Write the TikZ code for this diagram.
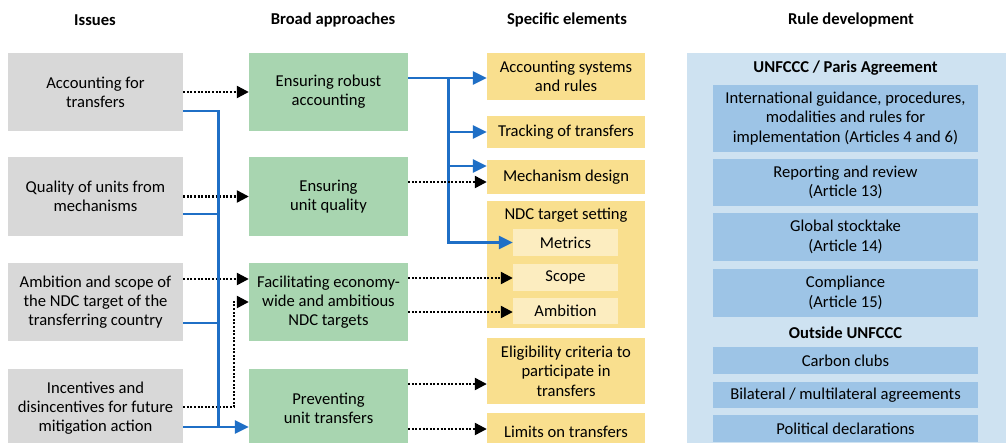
\documentclass[tikz,border=0pt]{standalone}
\usepackage{fontspec}
\setmainfont{Carlito}
\usetikzlibrary{calc,arrows.meta}
\definecolor{grayc}{HTML}{D8D8D8}
\definecolor{greenc}{HTML}{A8D5B0}
\definecolor{yellc}{HTML}{F9DF8E}
\definecolor{yellin}{HTML}{FCEDC0}
\definecolor{bluebg}{HTML}{CEE2F1}
\definecolor{bluein}{HTML}{9DC4E6}
\definecolor{bluel}{HTML}{1F6FC6}
\newcommand\fsz{\fontsize{16.6}{19.3}\selectfont}
\begin{document}
\begin{tikzpicture}[x=1pt,y=-1pt,
  hdr/.style={font=\fsz\bfseries, inner sep=0},
  txt/.style={font=\fsz, inner sep=0, align=center},
  gbox/.style={fill=grayc, inner sep=0, align=center, font=\fsz},
  abox/.style={fill=greenc, inner sep=0, align=center, font=\fsz},
  ybox/.style={fill=yellc, inner sep=0, align=center, font=\fsz},
  yin/.style={fill=yellin, inner sep=0, align=center, font=\fsz, minimum width=105},
  rbox/.style={fill=bluein, inner sep=0, align=center, font=\fsz, minimum width=265},
  dotarrow/.style={black, line width=2.3pt, dash pattern=on 2pt off 1.6pt, -{Triangle[length=12pt,width=12pt]}},
  bline/.style={bluel, line width=2.6pt},
  barrow/.style={bluel, line width=2.6pt, -{Triangle[length=14pt,width=13pt]}}
]
\useasboundingbox (0,0) rectangle (1006,442);
\clip (0,0) rectangle (1006,442);
\fill[white] (0,0) rectangle (1006,442);

% headers
\node[hdr] (h1) at (95,20) {Issues};
\node[hdr] (h2) at (333,20) {Broad approaches};
\node[hdr] (h3) at (567,20) {Specific elements};
\node[hdr] (h4) at (851,20) {Rule development};

% issues
\node[gbox, minimum width=175, minimum height=78] (i1) at (95.5,92) {Accounting for\\transfers};
\node[gbox, minimum width=175, minimum height=79] (i2) at (95.5,196.5) {Quality of units from\\mechanisms};
\node[gbox, minimum width=175, minimum height=78] (i3) at (95.5,302) {Ambition  and scope of\\the NDC target of the\\transferring  country};
\node[gbox, minimum width=175, minimum height=78] (i4) at (95.5,408) {Incentives and\\disincentives for future\\mitigation action};

% broad approaches
\node[abox, minimum width=159, minimum height=78] (a1) at (328.5,92) {Ensuring robust\\accounting};
\node[abox, minimum width=159, minimum height=79] (a2) at (328.5,196.5) {Ensuring\\unit quality};
\node[abox, minimum width=159, minimum height=78] (a3) at (328.5,302) {Facilitating economy-\\wide and ambitious\\NDC targets};
\node[abox, minimum width=159, minimum height=78] (a4) at (328.5,408) {Preventing\\unit transfers};

% specific elements
\node[ybox, minimum width=158, minimum height=47] (s1) at (566,76.5) {Accounting systems\\and rules};
\node[ybox, minimum width=158, minimum height=32] (s2) at (566,132) {Tracking of transfers};
\node[ybox, minimum width=158, minimum height=34] (s3) at (566,177) {Mechanism design};
\node[ybox, minimum width=158, minimum height=127] (s4) at (566,264.5) {};
\node[txt] (s4t) at (566,215) {NDC target setting};
\node[yin, minimum height=27] (m1) at (565.5,242.5) {Metrics};
\node[yin, minimum height=27] (m2) at (565.5,277.5) {Scope};
\node[yin, minimum height=26] (m3) at (565.5,311) {Ambition};
\node[ybox, minimum width=158, minimum height=66] (s5) at (566,371) {Eligibility criteria to\\participate in\\transfers};
\node[ybox, minimum width=158, minimum height=38] (s6) at (566,432) {Limits on transfers};

% rule development
\node[fill=bluebg, inner sep=0, minimum width=319, minimum height=394] (r0) at (846.5,250) {};
\node[hdr] (rt1) at (845.5,68) {UNFCCC / Paris Agreement};
\node[rbox, minimum height=67] (r1) at (845.5,118.5) {International guidance, procedures,\\modalities and rules for\\implementation (Articles 4 and 6)};
\node[rbox, minimum height=47] (r2) at (845.5,182.5) {Reporting and review\\(Article 13)};
\node[rbox, minimum height=48] (r3) at (845.5,237) {Global stocktake\\(Article 14)};
\node[rbox, minimum height=48] (r4) at (845.5,293) {Compliance\\(Article 15)};
\node[hdr] (rt2) at (845.5,333) {Outside UNFCCC};
\node[rbox, minimum height=27] (r5) at (845.5,360.5) {Carbon clubs};
\node[rbox, minimum height=26] (r6) at (845.5,395) {Bilateral / multilateral agreements};
\node[rbox, minimum height=27] (r7) at (845.5,428.5) {Political declarations};

% dotted: issues -> approaches
\draw[dotarrow] (i1.east) -- (a1.west);
\draw[dotarrow] (i2.east) -- (a2.west);
\coordinate (d3) at ($(i3.east)+(0,-23)$);
\draw[dotarrow] (d3) -- (d3 -| a3.west);
\coordinate (d4) at ($(i4.east)+(0,-1)$);
\coordinate (d4k) at ($(a3.west)+(-15,0)$);
\draw[dotarrow] (d4) -| (d4k) -- (a3.west);

% blue bus: issues -> preventing unit transfers
\coordinate (b1) at ($(i1.east)+(0,19)$);
\coordinate (b4) at ($(i4.east)+(0,19)$);
\coordinate (bx) at ($(b1)+(35,0)$);
\draw[bline] (b1) -- (bx) -- (bx |- b4);
\coordinate (b2) at ($(i2.east)+(0,17.5)$);
\draw[bline] (b2) -- (b2 -| bx);
\coordinate (b3) at ($(i3.east)+(0,21)$);
\draw[bline] (b3) -- (b3 -| bx);
\draw[barrow] (b4) -- (b4 -| a4.west);

% blue: robust accounting -> elements
\coordinate (c1) at ($(a1.east)+(0,-14)$);
\coordinate (cx) at ($(c1)+(40,0)$);
\draw[barrow] (c1) -- (c1 -| s1.west);
\draw[barrow] (cx) |- (m1.west);
\draw[barrow] (cx |- s2.west) -- (s2.west);
\coordinate (c3) at ($(s3.west)+(0,-11)$);
\draw[barrow] (c3 -| cx) -- (c3);

% dotted: approaches -> elements
\coordinate (e2) at ($(a2.east)+(0,-14.5)$);
\draw[dotarrow] (e2) -- (e2 -| s3.west);
\coordinate (e3) at ($(a3.east)+(0,-24)$);
\draw[dotarrow] (e3) -- (e3 -| m2.west);
\coordinate (e4) at ($(a3.east)+(0,10)$);
\draw[dotarrow] (e4) -- (e4 -| m3.west);
\coordinate (e5) at ($(a4.east)+(0,-24)$);
\draw[dotarrow] (e5) -- (e5 -| s5.west);
\coordinate (e6) at ($(a4.east)+(0,21)$);
\draw[dotarrow] (e6) -- (e6 -| s6.west);
\end{tikzpicture}
\end{document}
